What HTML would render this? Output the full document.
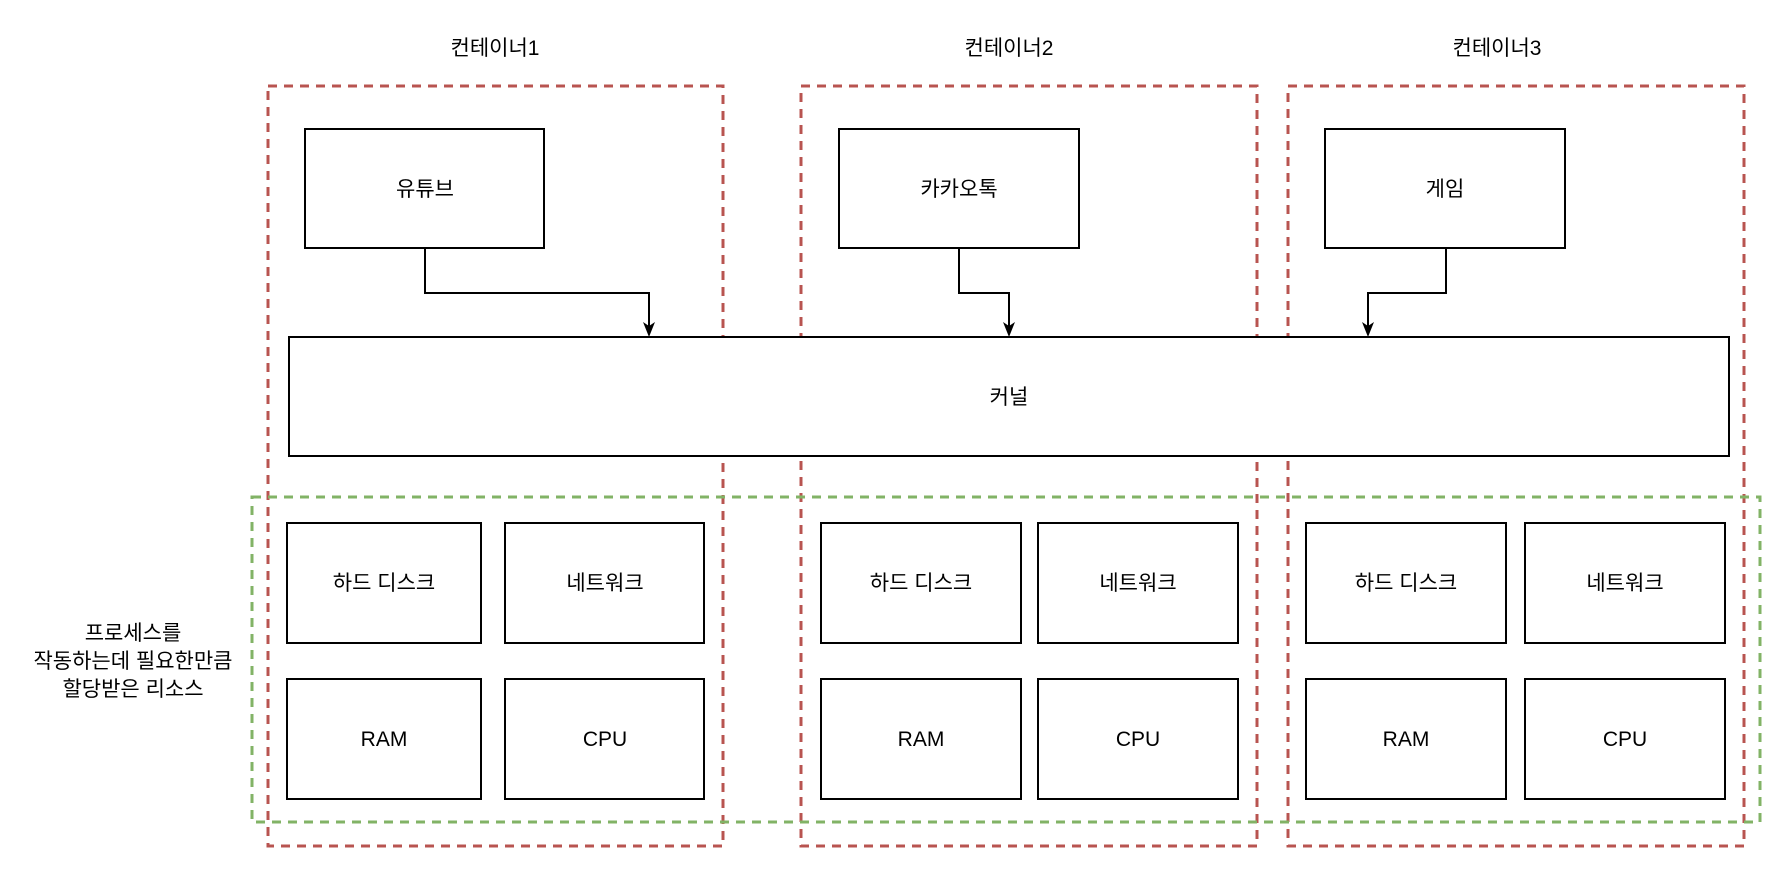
<!DOCTYPE html>
<html><head><meta charset="utf-8"><style>
html,body{margin:0;padding:0;background:#fff;}
svg{display:block;}
text{font-family:"Liberation Sans","Noto Sans CJK KR",sans-serif;font-size:21px;fill:#000;}
</style></head><body>
<svg width="1792" height="884" viewBox="0 0 1792 884" xmlns="http://www.w3.org/2000/svg">
<g fill="none" stroke="#b85450" stroke-width="3" stroke-dasharray="9 7">
<rect x="268" y="86" width="455" height="760"/>
<rect x="801" y="86" width="456" height="760"/>
<rect x="1288" y="86" width="456" height="760"/>
</g>
<g fill="none" stroke="#82b366" stroke-width="3" stroke-dasharray="9 7">
<rect x="252" y="497" width="1508" height="325"/>
</g>
<g text-anchor="middle">
<text x="495" y="55">컨테이너1</text>
<text x="1009" y="55">컨테이너2</text>
<text x="1497" y="55">컨테이너3</text>
</g>
<g fill="#fff" stroke="#000" stroke-width="2">
<rect x="305" y="129" width="239" height="119"/>
<rect x="839" y="129" width="240" height="119"/>
<rect x="1325" y="129" width="240" height="119"/>
<rect x="289" y="337" width="1440" height="119"/>
<rect x="287" y="523" width="194" height="120"/><rect x="505" y="523" width="199" height="120"/>
<rect x="287" y="679" width="194" height="120"/><rect x="505" y="679" width="199" height="120"/>
<rect x="821" y="523" width="200" height="120"/><rect x="1038" y="523" width="200" height="120"/>
<rect x="821" y="679" width="200" height="120"/><rect x="1038" y="679" width="200" height="120"/>
<rect x="1306" y="523" width="200" height="120"/><rect x="1525" y="523" width="200" height="120"/>
<rect x="1306" y="679" width="200" height="120"/><rect x="1525" y="679" width="200" height="120"/>
</g>
<g fill="none" stroke="#000" stroke-width="2">
<path d="M425,248 V293 H649 V328"/>
<path d="M959,248 V293 H1009 V328"/>
<path d="M1446,248 V293 H1368 V328"/>
</g>
<g fill="#000">
<polygon points="649,337 643,322 649,326 655,322"/>
<polygon points="1009,337 1003,322 1009,326 1015,322"/>
<polygon points="1368,337 1362,322 1368,326 1374,322"/>
</g>
<g text-anchor="middle">
<text x="425" y="196">유튜브</text>
<text x="959" y="196">카카오톡</text>
<text x="1445" y="196">게임</text>
<text x="1009" y="404">커널</text>
<text x="384" y="590">하드 디스크</text><text x="605" y="590">네트워크</text>
<text x="384" y="746">RAM</text><text x="605" y="746">CPU</text>
<text x="921" y="590">하드 디스크</text><text x="1138" y="590">네트워크</text>
<text x="921" y="746">RAM</text><text x="1138" y="746">CPU</text>
<text x="1406" y="590">하드 디스크</text><text x="1625" y="590">네트워크</text>
<text x="1406" y="746">RAM</text><text x="1625" y="746">CPU</text>
<text x="133" y="640">프로세스를</text>
<text x="133" y="668">작동하는데 필요한만큼</text>
<text x="133" y="696">할당받은 리소스</text>
</g>
</svg>
</body></html>
